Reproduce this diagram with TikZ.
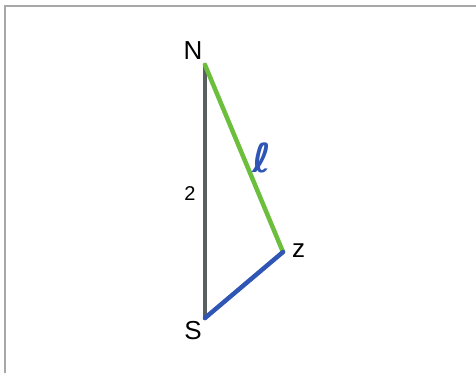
\documentclass[tikz,border=0pt]{standalone}
\usepackage{fontspec}
\setmainfont{Liberation Sans}
\newfontfamily\ellfont{DejaVu Sans}
\definecolor{edgegray}{HTML}{5A5F5F}
\definecolor{edgegreen}{HTML}{6CBF3C}
\definecolor{edgeblue}{HTML}{2F55B5}
\definecolor{framegray}{HTML}{A8A8A8}
\newcommand{\lblsize}{\fontsize{26pt}{26pt}\selectfont}
\newcommand{\twosize}{\fontsize{20pt}{20pt}\selectfont}
\newcommand{\ellsize}{\fontsize{40pt}{40pt}\selectfont}
\begin{document}
\begin{tikzpicture}[x=1pt,y=-1pt,
  seg/.style={line width=4.5pt,line cap=round},
  lbl/.style={font=\lblsize,inner sep=0pt}]
\useasboundingbox (0,0) rectangle (476,373);
\fill[white] (0,0) rectangle (476,373);
\draw[framegray,line width=1.5pt] (5,373) -- (5,6) -- (476,6);
\coordinate (N) at (205,65);
\coordinate (S) at (205,318);
\coordinate (Z) at (283,252);
\draw[seg,edgegray] (N) -- (S);
\draw[seg,edgegreen] (N) -- (Z);
\draw[seg,edgeblue] (S) -- (Z);
\node[lbl] (nl) at (193,51) {N};
\node[lbl] (sl) at (193,331) {S};
\node[lbl] (zl) at (298.5,251) {z};
\node[lbl,font=\twosize] (two) at (190,194) {2};
\node[inner sep=0pt,text=edgeblue,font=\ellfont\bfseries\ellsize] (ell) at (262,158) {ℓ};
\end{tikzpicture}
\end{document}
